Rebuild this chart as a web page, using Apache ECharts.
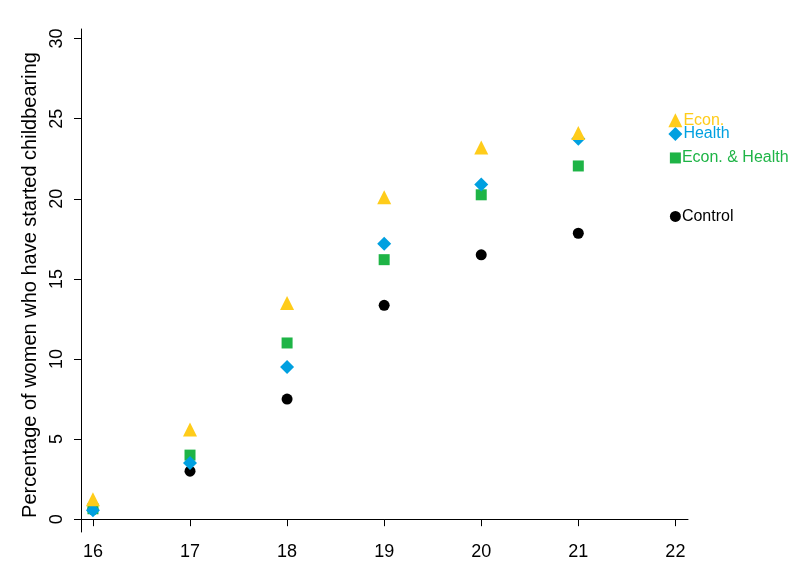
<!DOCTYPE html>
<html>
<head>
<meta charset="utf-8">
<script src="https://cdn.jsdelivr.net/npm/echarts@6/dist/echarts.min.js"></script>
<style>
  html, body { margin: 0; padding: 0; background: #fff; }
  #chart { width: 792px; height: 576px; }
</style>
</head>
<body>
<div id="chart"></div>
<script>
var ages = [16, 17, 18, 19, 20, 21];
var econ = [1.25, 5.6, 13.5, 20.1, 23.2, 24.1];
var health = [0.55, 3.5, 9.5, 17.2, 20.9, 23.75];
var econHealth = [0.65, 4.0, 11.0, 16.2, 20.25, 22.05];
var control = [0.6, 3.0, 7.5, 13.35, 16.5, 17.85];

// end labels placed at age 22
var labelAge = 22;
var labelNames = ["Econ.", "Health", "Econ. & Health", "Control"];
var labelY = [24.9, 24.05, 22.55, 18.9];
var colors = ["#FFCC1A", "#00A0E0", "#1EB446", "#000000"];
var symbols = ["triangle", "diamond", "rect", "circle"];
var sizes = [14, 14, 11, 11];

var xTicks = [16, 17, 18, 19, 20, 21, 22];
var yTicks = [0, 5, 10, 15, 20, 25, 30];

var chart = echarts.init(document.getElementById("chart"));
var groups = [econ, health, econHealth, control];

var series = [];
// draw control first so the others sit on top
[3, 2, 1, 0].forEach(function (i) {
  series.push({
    name: labelNames[i],
    type: "scatter",
    symbol: symbols[i],
    symbolSize: sizes[i],
    itemStyle: { color: colors[i], opacity: 1 },
    data: ages.map(function (a, k) { return [a, groups[i][k]]; })
  });
  series.push({
    type: "scatter",
    symbol: symbols[i],
    symbolSize: sizes[i],
    itemStyle: { color: colors[i], opacity: 1 },
    label: {
      show: true,
      position: "right",
      distance: 1,
      formatter: labelNames[i],
      color: colors[i],
      fontFamily: "Liberation Sans",
      fontSize: 16
    },
    data: [[labelAge, labelY[i]]]
  });
});

chart.setOption({
  animation: false,
  backgroundColor: "#fff",
  grid: { left: 81, right: 104, top: 29, bottom: 44 },
  xAxis: {
    type: "value",
    min: 15.877,
    max: 22.13,
    splitLine: { show: false },
    axisLine: { lineStyle: { color: "#000", width: 1 } },
    axisTick: {
      show: true, length: 7, inside: false,
      customValues: xTicks,
      lineStyle: { color: "#000" }
    },
    axisLabel: {
      customValues: xTicks,
      color: "#000",
      fontFamily: "Liberation Sans",
      fontSize: 18,
      margin: 11
    }
  },
  yAxis: {
    type: "value",
    min: -0.8,
    max: 30.6,
    name: "Percentage of women who have started childbearing",
    nameLocation: "middle",
    nameGap: 38,
    nameTextStyle: { color: "#000", fontFamily: "Liberation Sans", fontSize: 20, padding: [0, 0, 0, -9] },
    splitLine: { show: false },
    axisLine: { show: true, lineStyle: { color: "#000", width: 1 } },
    axisTick: {
      show: true, length: 7, inside: false,
      customValues: yTicks,
      lineStyle: { color: "#000" }
    },
    axisLabel: {
      customValues: yTicks,
      rotate: 90,
      color: "#000",
      fontFamily: "Liberation Sans",
      fontSize: 18,
      margin: 15
    }
  },
  series: series
});
</script>
</body>
</html>
